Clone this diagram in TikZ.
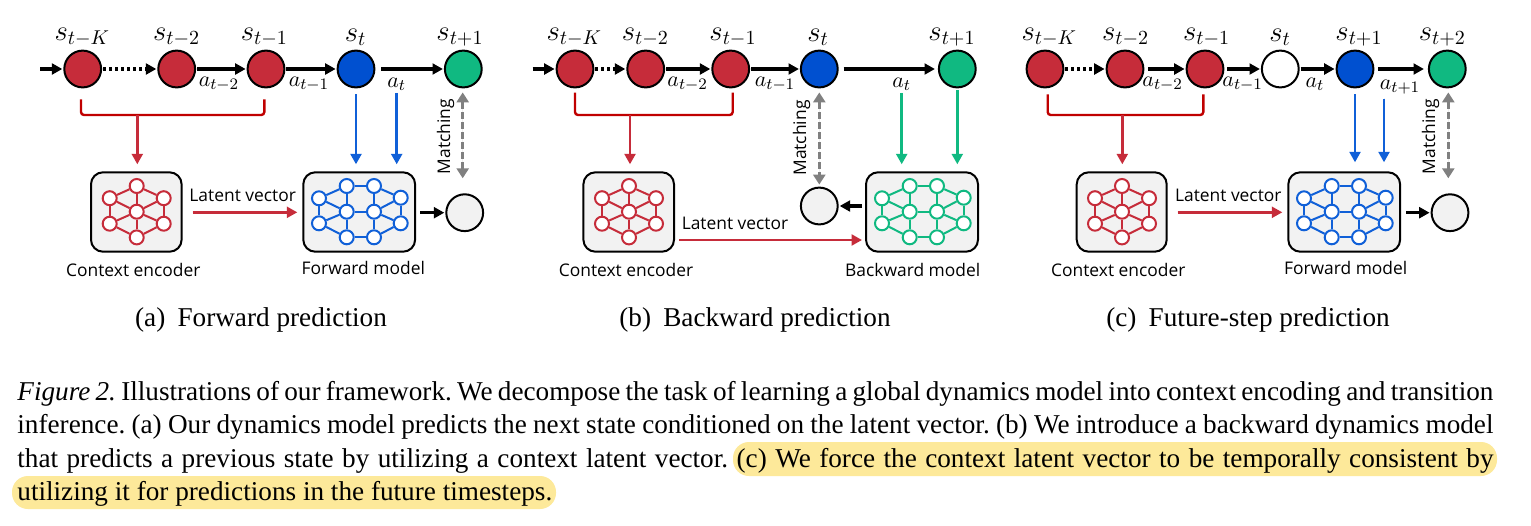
\documentclass[tikz,border=0pt]{standalone}
\usepackage{fontspec}
\setmainfont{Liberation Serif}
\newfontfamily\lblfont{Open Sans}
\usetikzlibrary{arrows.meta}
\definecolor{cred}{HTML}{C62C3A}
\definecolor{cblue}{HTML}{0050D0}
\definecolor{cgreen}{HTML}{10B981}
\definecolor{netblue}{HTML}{1060D8}
\definecolor{brkred}{HTML}{C00000}
\definecolor{cgrey}{HTML}{808080}
\definecolor{boxgrey}{HTML}{F2F2F2}
\definecolor{hl}{HTML}{FDE99A}
\tikzset{
  x=0.5pt,y=-0.5pt,
  st/.style={circle,draw=black,line width=1pt,minimum size=18.4pt,inner sep=0pt,outer sep=1pt},
  netbox/.style={draw=black,fill=boxgrey,line width=1pt,rounded corners=6pt,minimum height=39.7pt,inner sep=0pt},
  netn/.style={circle,draw=#1,fill=white,line width=1pt,minimum size=7pt,inner sep=0pt},
  nete/.style={draw=#1,line width=1pt},
  arr/.style={-{Triangle[length=5.2pt,width=5.4pt]},line width=1.6pt},
  dotarr/.style={arr,dash pattern=on 1.5pt off 1.5pt},
  colarr/.style={-{Triangle[length=5.2pt,width=5.4pt]},line width=1.4pt,draw=#1,fill=#1},
  brk/.style={draw=brkred,line width=1.2pt,rounded corners=1.5pt},
  matarr/.style={{Triangle[length=5pt,width=6pt]}-{Triangle[length=5pt,width=6pt]},draw=cgrey,fill=cgrey,line width=1.4pt,dash pattern=on 3.4pt off 1.6pt},
  sl/.style={inner sep=0pt,font=\fontsize{14.8}{16}\selectfont},
  al/.style={inner sep=0pt,font=\fontsize{11}{12}\selectfont},
  lb/.style={inner sep=0pt,font=\lblfont\fontsize{8.7}{10}\selectfont},
  subcap/.style={inner sep=0pt,anchor=base,font=\fontsize{13.6}{15}\selectfont},
  captext/.style={inner sep=0pt,anchor=base west,font=\frenchspacing\fontsize{13.6}{15}\selectfont},
}
\newcommand\encnet[4]{%
  \begin{scope}[shift={(#2,#3)}]
    \foreach \n/\px/\py in {t/0/-25.7,l/-27/-13.5,r/27/-13.5,c/0/0,m/-27/12,n/27/12,b/0/25.7}
      \node[netn=#4] (#1\n) at (\px,\py) {};
    \foreach \u/\v in {t/l,t/r,t/c,l/m,r/n,l/c,r/c,m/c,n/c,c/b,m/b,n/b}
      \draw[nete=#4] (#1\u) -- (#1\v);
  \end{scope}}
\newcommand\dynnet[4]{%
  \begin{scope}[shift={(#2,#3)}]
    \foreach \n/\px/\py in {A/-40/-13.7,B/-40/11.3,C/-12.3/-26,D/-12.3/-.3,E/-12.3/25.3,F/15/-26,G/15/-.3,H/15/25.3,I/41.7/-14.3,J/41.7/11.3}
      \node[netn=#4] (#1\n) at (\px,\py) {};
    \foreach \u/\v in {A/B,A/C,A/D,B/D,B/E,C/D,D/E,C/F,D/G,E/H,F/G,G/H,F/I,G/I,G/J,H/J,I/J}
      \draw[nete=#4] (#1\u) -- (#1\v);
  \end{scope}}
\begin{document}
\begin{tikzpicture}
\useasboundingbox (0,0) rectangle (1531,525);
\fill[white] (0,0) rectangle (1531,525);
% ---------- highlight
\fill[hl,rounded corners=8pt] (733,442) rectangle (1497,476);
\fill[hl,rounded corners=8pt] (12,476) rectangle (556,509);
% ---------- panel a
\node[st,fill=cred] (a1) at (82.7,69) {};
\node[st,fill=cred] (a2) at (176.7,69) {};
\node[st,fill=cred] (a3) at (266,69) {};
\node[st,fill=cblue] (a4) at (356,69) {};
\node[st,fill=cgreen] (a5) at (463.3,69) {};
\node[st,fill=boxgrey] (a6) at (464.7,212.7) {};
\node[sl] (as1) at (82.3,37) {$s_{t-K}$};
\node[sl] (as2) at (176.7,37) {$s_{t-2}$};
\node[sl] (as3) at (264.3,37) {$s_{t-1}$};
\node[sl] (as4) at (355.7,37) {$s_{t}$};
\node[sl] (as5) at (460,37) {$s_{t+1}$};
\node[al] (aa2) at (219,84) {$a_{t-2}$};
\node[al] (aa3) at (309,84) {$a_{t-1}$};
\node[al] (aat) at (396.7,84) {$a_{t}$};
\node[netbox,minimum width=45.3pt] (aE) at (136.3,212) {};
\node[netbox,minimum width=55.9pt] (aF) at (359.2,212) {};
\encnet{ae}{136.7}{211.7}{cred}
\dynnet{af}{359}{212}{netblue}
\coordinate (ain) at (40,69);
\draw[arr] (ain) -- (a1);
\draw[dotarr] (a1) -- (a2);
\draw[arr] (a2) -- (a3);
\draw[arr] (a3) -- (a4);
\draw[arr,shorten <=2.5pt] (a4) -- (a5);
\coordinate (abl) at (81,99.3);
\coordinate (abr) at (264.3,99.3);
\coordinate (abj) at (137.3,115);
\draw[brk] (abl) |- (abr |- abj) -- (abr);
\draw[colarr=cred,shorten >=3.5pt] (abj) -- (abj |- aE.north);
\draw[colarr=netblue,shorten <=2.5pt,shorten >=3.5pt] (a4) -- (a4 |- aF.north);
\draw[colarr=netblue,shorten <=1pt,shorten >=3.5pt] (aat.south) -- (aat.south |- aF.north);
\draw[colarr=cred,shorten <=5pt,shorten >=2.5pt] (aE.east |- 0,212.3) -- (aF.west |- 0,212.3);
\node[lb,anchor=center] (al) at (242.7,195) {Latent vector};
\draw[arr,shorten <=2pt] (aF.east |- a6) -- (a6);
\draw[matarr,shorten <=1.5pt,shorten >=7pt] (a5.south -| 462.7,0) -- (a6.north -| 462.7,0);
\node[lb,rotate=90] (am) at (445.7,136.7) {Matching};
\node[lb] (ac) at (133.3,270) {Context encoder};
\node[lb] (af) at (363.3,268) {Forward model};
\node[subcap] (asub) at (261,326) {(a)\hspace{.45em}Forward prediction};
% ---------- panel b
\node[st,fill=cred] (b1) at (575,69) {};
\node[st,fill=cred] (b2) at (645.7,69) {};
\node[st,fill=cred] (b3) at (730.7,69) {};
\node[st,fill=cblue] (b4) at (819.3,69) {};
\node[st,fill=cgreen] (b5) at (957.3,69) {};
\node[st,fill=boxgrey] (b6) at (819.3,206) {};
\node[sl] (bs1) at (574.3,37) {$s_{t-K}$};
\node[sl] (bs2) at (645.3,37) {$s_{t-2}$};
\node[sl] (bs3) at (733,37) {$s_{t-1}$};
\node[sl] (bs4) at (818,37) {$s_{t}$};
\node[sl] (bs5) at (952,37) {$s_{t+1}$};
\node[al] (ba2) at (687.7,84) {$a_{t-2}$};
\node[al] (ba3) at (775,84) {$a_{t-1}$};
\node[al] (bat) at (901.7,84) {$a_{t}$};
\node[netbox,minimum width=45.3pt] (bE) at (628.7,212) {};
\node[netbox,minimum width=56pt] (bF) at (922,212) {};
\encnet{be}{629}{211.7}{cred}
\dynnet{bf}{922}{212}{cgreen}
\coordinate (bin) at (532.7,69);
\draw[arr] (bin) -- (b1);
\draw[dotarr] (b1) -- (b2);
\draw[arr] (b2) -- (b3);
\draw[arr] (b3) -- (b4);
\draw[arr,shorten <=2pt,shorten >=1pt] (b4) -- (b5);
\coordinate (bbl) at (575,92.7);
\coordinate (bbr) at (732.7,92.7);
\coordinate (bbj) at (630,115);
\draw[brk] (bbl) |- (bbr |- bbj) -- (bbr);
\draw[colarr=cred,shorten >=3.5pt] (bbj) -- (bbj |- bE.north);
\draw[colarr=cgreen,shorten <=1pt,shorten >=3.5pt] (bat.south) -- (bat.south |- bF.north);
\draw[colarr=cgreen,shorten <=.5pt,shorten >=3.5pt] (b5) -- (b5 |- bF.north);
\draw[colarr=cred,shorten <=2pt,shorten >=1.5pt] (bE.east |- 0,240) -- (bF.west |- 0,240);
\node[lb] (bl) at (735,223) {Latent vector};
\draw[arr,shorten <=1.5pt] (bF.west |- b6) -- (b6);
\draw[matarr,shorten <=1.5pt,shorten >=.5pt] (b4) -- (b6);
\node[lb,rotate=90] (bm) at (801.7,138) {Matching};
\node[lb] (bc) at (626,270) {Context encoder};
\node[lb] (bf) at (912.7,270) {Backward model};
\node[subcap] (bsub) at (755,326) {(b)\hspace{.45em}Backward prediction};
% ---------- panel c
\node[st,fill=cred] (c1) at (1045,69) {};
\node[st,fill=cred] (c2) at (1125,69) {};
\node[st,fill=cred] (c3) at (1205,69) {};
\node[st,fill=white] (c4) at (1280.3,69) {};
\node[st,fill=cblue] (c5) at (1355,69) {};
\node[st,fill=cgreen] (c6) at (1447.3,69) {};
\node[st,fill=boxgrey] (c7) at (1450,212.7) {};
\node[sl] (cs1) at (1049.3,37) {$s_{t-K}$};
\node[sl] (cs2) at (1125.7,37) {$s_{t-2}$};
\node[sl] (cs3) at (1206.7,37) {$s_{t-1}$};
\node[sl] (cs4) at (1280,37) {$s_{t}$};
\node[sl] (cs5) at (1359,37) {$s_{t+1}$};
\node[sl] (cs6) at (1442.3,37) {$s_{t+2}$};
\node[al] (ca2) at (1162.7,84) {$a_{t-2}$};
\node[al] (ca3) at (1242.7,84) {$a_{t-1}$};
\node[al] (cat) at (1315,84) {$a_{t}$};
\node[al] (capp) at (1400,87) {$a_{t+1}$};
\node[netbox,minimum width=45pt] (cE) at (1121.7,212) {};
\node[netbox,minimum width=55.9pt] (cF) at (1344.2,212) {};
\encnet{ce}{1122}{211.7}{cred}
\dynnet{cf}{1344}{212}{netblue}
\draw[dotarr] (c1) -- (c2);
\draw[arr,shorten <=1.5pt] (c2) -- (c3);
\draw[arr,shorten <=1pt] (c3) -- (c4);
\draw[arr] (c4) -- (c5);
\draw[arr,shorten <=1.5pt,shorten >=1.5pt] (c5) -- (c6);
\coordinate (cbl) at (1047.7,94.3);
\coordinate (cbr) at (1203.3,94.3);
\coordinate (cbj) at (1122.3,115);
\draw[brk] (cbl) |- (cbr |- cbj) -- (cbr);
\draw[colarr=cred,shorten >=3.5pt] (cbj) -- (cbj |- cE.north);
\draw[colarr=netblue,shorten <=2.5pt,shorten >=4.5pt] (c5) -- (c5 |- cF.north);
\draw[colarr=netblue,shorten <=2pt,shorten >=4.5pt] (capp.south -| 1384,0) -- (cF.north -| 1384,0);
\draw[colarr=cred,shorten <=5pt,shorten >=2.5pt] (cE.east |- 0,212.3) -- (cF.west |- 0,212.3);
\node[lb] (cl) at (1228.3,195) {Latent vector};
\draw[arr,shorten <=2.5pt] (cF.east |- c7) -- (c7);
\draw[matarr,shorten <=1.5pt,shorten >=7pt] (c6.south -| 1448.3,0) -- (c7.north -| 1448.3,0);
\node[lb,rotate=90] (cm) at (1430.7,136.7) {Matching};
\node[lb] (cc) at (1118.3,270) {Context encoder};
\node[lb] (cf) at (1345.7,268) {Forward model};
\node[subcap] (csub) at (1248,326) {(c)\hspace{.45em}Future-step prediction};
% ---------- caption
\node[captext] (l1) at (17,400) {\makebox[738pt][s]{\textit{Figure 2.} Illustrations of our framework. We decompose the task of learning a global dynamics model into context encoding and transition}};
\node[captext] (l2) at (17,433) {\makebox[738pt][s]{inference. (a) Our dynamics model predicts the next state conditioned on the latent vector. (b) We introduce a backward dynamics model}};
\node[captext] (l3) at (17,467) {\makebox[738pt][s]{that predicts a previous state by utilizing a context latent vector. (c) We force the context latent vector to be temporally consistent by}};
\node[captext] (l4) at (17,500) {utilizing it for predictions in the future timesteps.};
\end{tikzpicture}
\end{document}
